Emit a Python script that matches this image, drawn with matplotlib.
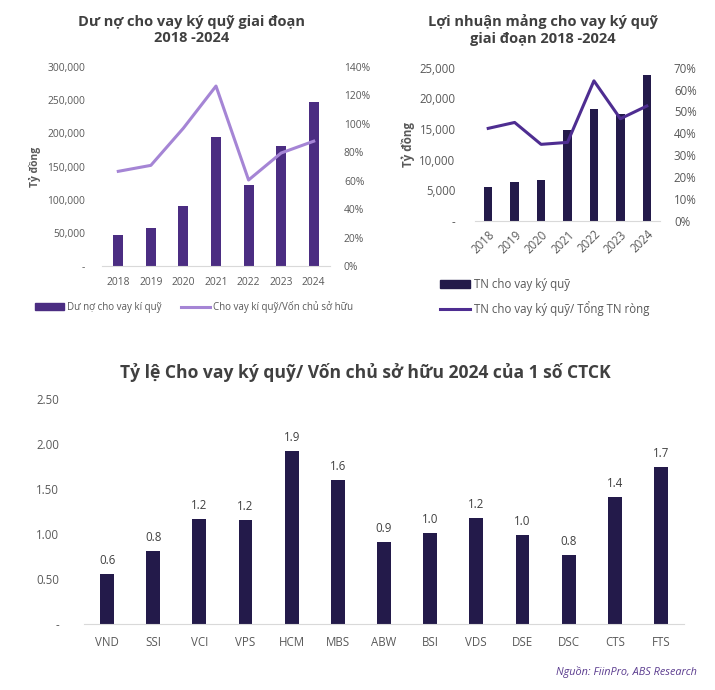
import numpy as np
import matplotlib
matplotlib.use("Agg")
import matplotlib.pyplot as plt
from matplotlib.ticker import FuncFormatter
from matplotlib.patches import Patch
from matplotlib.lines import Line2D

plt.rcParams['font.family'] = ['Open Sans', 'DejaVu Sans']

# ---- dữ liệu ----
years = ['2018', '2019', '2020', '2021', '2022', '2023', '2024']
margin_debt = [47000, 57000, 91000, 195000, 122000, 181000, 247000]          # tỷ đồng
margin_to_equity = [0.666, 0.708, 0.97, 1.266, 0.605, 0.795, 0.878]

margin_income = [5500, 6350, 6750, 14900, 18250, 17450, 23750]              # tỷ đồng
income_share = [0.423, 0.45, 0.35, 0.359, 0.64, 0.467, 0.525]

brokers = ['VND', 'SSI', 'VCI', 'VPS', 'HCM', 'MBS', 'ABW', 'BSI', 'VDS', 'DSE', 'DSC', 'CTS', 'FTS']
ratio_2024 = [0.556, 0.807, 1.167, 1.152, 1.922, 1.60, 0.907, 1.015, 1.181, 0.985, 0.77, 1.415, 1.748]

W, H = 715, 690
TXT = '#595959'
TITLE = '#404040'
GRID = '#D9D9D9'


def px(l, t, r, b):
    # hộp trục tính theo pixel -> toạ độ figure
    return [l / W, (H - b) / H, (r - l) / W, (b - t) / H]


def thousands(v, _):
    return '-' if v == 0 else f'{v:,.0f}'


def style(ax):
    for s in ['top', 'left', 'right']:
        ax.spines[s].set_visible(False)
    ax.spines['bottom'].set_color(GRID)
    ax.tick_params(length=0, colors=TXT)


fig = plt.figure(figsize=(W / 100, H / 100), dpi=100)

# ========== biểu đồ 1: dư nợ cho vay ký quỹ ==========
ax1 = fig.add_axes(px(102, 67, 330, 266))
x = np.arange(len(years))
ax1.bar(x, margin_debt, width=0.31, color='#4B2D82', zorder=2)
ax1.set_ylim(0, 300000)
ax1.set_yticks(np.arange(0, 300001, 50000))
ax1.yaxis.set_major_formatter(FuncFormatter(thousands))
ax1.set_xlim(-0.5, 6.5)
ax1.set_xticks(x)
ax1.set_xticklabels(years)
style(ax1)
ax1.tick_params(labelsize=7.4, pad=8)
ax1.tick_params(axis='y', pad=12)
ax1.set_ylabel('Tỷ đồng', fontsize=7.4, color=TXT, fontweight='bold', labelpad=5)

ax1b = ax1.twinx()
ax1b.plot(x, margin_to_equity, color='#A585D5', linewidth=2.2, zorder=3)
ax1b.set_ylim(0, 1.4)
ax1b.set_yticks(np.arange(0, 1.41, 0.2))
ax1b.yaxis.set_major_formatter(FuncFormatter(lambda v, _: f'{v * 100:.0f}%'))
style(ax1b)
ax1b.spines['bottom'].set_visible(False)
ax1b.tick_params(labelsize=7.4, pad=10)

fig.text(192 / W, 1 - 30 / H, 'Dư nợ cho vay ký quỹ giai đoạn\n2018 -2024',
         ha='center', va='center', fontsize=10.5, fontweight='bold', color=TITLE,
         linespacing=1.2)

leg1 = [Patch(color='#4B2D82', label='Dư nợ cho vay kí quỹ'),
        Line2D([0], [0], color='#A585D5', lw=2.2, label='Cho vay kí quỹ/Vốn chủ sở hữu')]
fig.legend(handles=leg1, loc='center', bbox_to_anchor=(194 / W, 1 - 307 / H), ncol=2,
           frameon=False, fontsize=7.0, labelcolor=TXT, handlelength=3.0,
           handletextpad=0.3, columnspacing=2.0)

# ========== biểu đồ 2: lợi nhuận mảng cho vay ký quỹ ==========
ax2 = fig.add_axes(px(475, 67.7, 660, 221))
ax2.bar(x, margin_income, width=0.32, color='#231A4A', zorder=2)
ax2.set_ylim(0, 25000)
ax2.set_yticks(np.arange(0, 25001, 5000))
ax2.yaxis.set_major_formatter(FuncFormatter(thousands))
ax2.set_xlim(-0.5, 6.5)
ax2.set_xticks(x)
ax2.set_xticklabels(years, rotation=45, ha='right', rotation_mode='anchor')
style(ax2)
ax2.tick_params(labelsize=8.3, pad=5)
ax2.tick_params(axis='y', pad=14)
ax2.set_ylabel('Tỷ đồng', fontsize=8.3, color=TXT, fontweight='bold', labelpad=3)

ax2b = ax2.twinx()
ax2b.plot(x, income_share, color='#4E2D91', linewidth=2.2, zorder=3)
ax2b.set_ylim(0, 0.7)
ax2b.set_yticks(np.arange(0, 0.71, 0.1))
ax2b.yaxis.set_major_formatter(FuncFormatter(lambda v, _: f'{v * 100:.0f}%'))
style(ax2b)
ax2b.spines['bottom'].set_visible(False)
ax2b.tick_params(labelsize=8.3, pad=10)

fig.text(543 / W, 1 - 30 / H, 'Lợi nhuận mảng cho vay ký quỹ\ngiai đoạn 2018 -2024',
         ha='center', va='center', fontsize=10.5, fontweight='bold', color=TITLE,
         linespacing=1.2)

leg2 = [Patch(color='#231A4A', label='TN cho vay ký quỹ'),
        Line2D([0], [0], color='#4E2D91', lw=2.2, label='TN cho vay ký quỹ/ Tổng TN ròng')]
fig.legend(handles=leg2, loc='upper left', bbox_to_anchor=(430 / W, 1 - 268 / H), ncol=1,
           frameon=False, fontsize=8.3, labelcolor=TXT, handlelength=2.6,
           handletextpad=0.3, labelspacing=0.8)

# ========== biểu đồ 3: tỷ lệ cho vay ký quỹ / VCSH ==========
ax3 = fig.add_axes(px(84, 399, 684, 624))
xb = np.arange(len(brokers))
bars = ax3.bar(xb, ratio_2024, width=0.3, color='#231A4A', zorder=2)
for rect, v in zip(bars, ratio_2024):
    ax3.annotate(f'{v:.1f}', (rect.get_x() + rect.get_width() / 2, v),
                 xytext=(0, 5), textcoords='offset points', ha='center', va='bottom',
                 fontsize=8.3, color=TITLE)
ax3.set_ylim(0, 2.5)
ax3.set_yticks(np.arange(0, 2.51, 0.5))
ax3.yaxis.set_major_formatter(FuncFormatter(lambda v, _: '-' if v == 0 else f'{v:.2f}'))
ax3.set_xlim(-0.5, len(brokers) - 0.5)
ax3.set_xticks(xb)
ax3.set_xticklabels(brokers)
style(ax3)
ax3.tick_params(labelsize=8.3, pad=9)
ax3.tick_params(axis='y', pad=18)

fig.text(365 / W, 1 - 373 / H, 'Tỷ lệ Cho vay ký quỹ/ Vốn chủ sở hữu 2024 của 1 số CTCK',
         ha='center', va='center', fontsize=12.6, fontweight='bold', color=TITLE)

fig.text(697 / W, 1 - 672 / H, 'Nguồn: FiinPro, ABS Research', ha='right', va='center',
         fontsize=7.8, style='italic', color='#5B3C8F')

fig.savefig('out.png', dpi=100)
